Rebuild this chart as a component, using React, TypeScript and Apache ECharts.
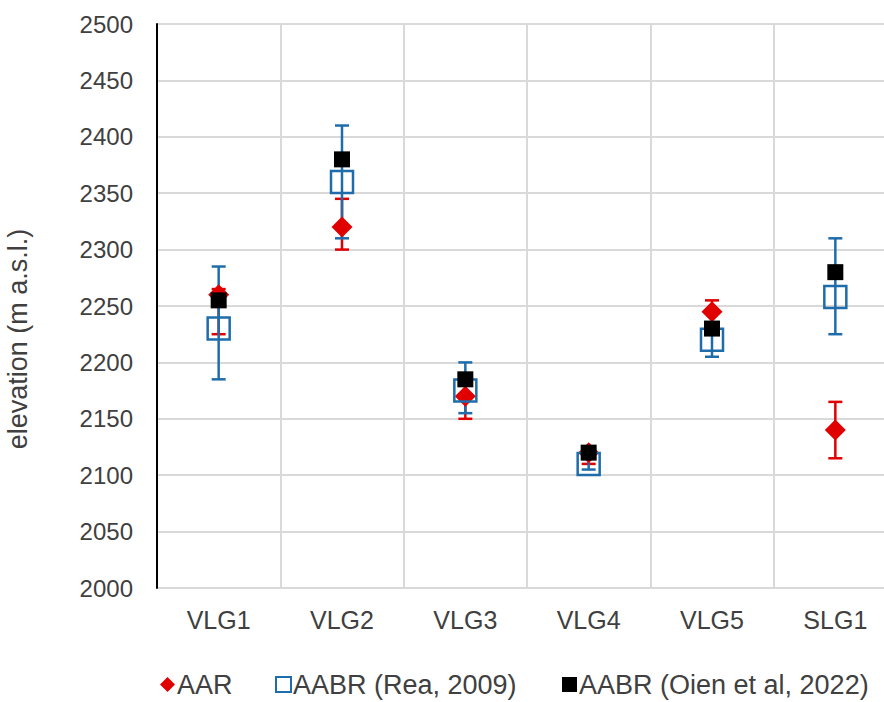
import React, { useEffect, useRef } from "react";
import * as echarts from "echarts";

const categories = ["VLG1", "VLG2", "VLG3", "VLG4", "VLG5", "SLG1"];
const aar = [2260, 2320, 2170, 2120, 2245, 2140];
const aarLow = [2225, 2300, 2150, 2110, 2235, 2115];
const aarHigh = [2265, 2345, 2190, 2125, 2255, 2165];
const rea = [2230, 2360, 2175, 2110, 2220, 2258];
const reaLow = [2185, 2310, 2155, 2105, 2205, 2225];
const reaHigh = [2285, 2410, 2200, 2115, 2232, 2310];
const oien = [2255, 2380, 2185, 2120, 2230, 2280];

const legendNames = ["AAR", "AABR (Rea, 2009)", "AABR (Oien et al, 2022)"];
const yAxisTitle = "elevation (m a.s.l.)";

const RED = "#e00000";
const BLUE = "#1f6cab";
const TEXT = "#404040";
const FONT = "Liberation Sans";

function errorSeries(low: number[], high: number[], color: string, z: number) {
  return {
    type: "custom",
    z,
    silent: true,
    data: categories.map((_, i) => [i, low[i], high[i]]),
    encode: { x: 0, y: [1, 2] },
    renderItem: (params: any, api: any) => {
      const x = api.value(0);
      const lo = api.coord([x, api.value(1)]);
      const hi = api.coord([x, api.value(2)]);
      const hw = 7;
      const style = { stroke: color, lineWidth: 2.5 };
      return {
        type: "group",
        children: [
          { type: "line", shape: { x1: lo[0], y1: lo[1], x2: hi[0], y2: hi[1] }, style },
          { type: "line", shape: { x1: lo[0] - hw, y1: lo[1], x2: lo[0] + hw, y2: lo[1] }, style },
          { type: "line", shape: { x1: hi[0] - hw, y1: hi[1], x2: hi[0] + hw, y2: hi[1] }, style },
        ],
      };
    },
  };
}

function legendAt(name: string, icon: string, left: number) {
  return {
    top: 671,
    left,
    padding: 0,
    itemWidth: 15,
    itemHeight: 15,
    textStyle: { fontSize: 27, color: TEXT, fontFamily: FONT, padding: [0, 0, 0, -3] },
    data: [{ name, icon }],
  };
}

export default function App() {
  const ref = useRef<HTMLDivElement>(null);
  useEffect(() => {
    if (!ref.current) return;
    const chart = echarts.init(ref.current, null, { renderer: "svg" });
    chart.setOption({
      animation: false,
      backgroundColor: "#ffffff",
      textStyle: { fontFamily: FONT },
      grid: {
        left: 157,
        top: 24,
        width: 740,
        bottom: 114,
        containLabel: false,
        outerBoundsMode: "none",
      },
      graphic: [
        {
          type: "text",
          x: 18,
          y: 339,
          rotation: Math.PI / 2,
          style: {
            text: yAxisTitle,
            fontSize: 27,
            fontFamily: FONT,
            fill: TEXT,
            align: "center",
            verticalAlign: "middle",
          },
        },
      ],
      legend: [
        legendAt(legendNames[0], "diamond", 160),
        legendAt(legendNames[1], "rect", 275),
        legendAt(legendNames[2], "rect", 562),
      ],
      xAxis: {
        type: "category",
        data: categories,
        boundaryGap: true,
        axisLine: { show: false },
        axisTick: { show: false },
        axisLabel: { fontSize: 25, color: TEXT, margin: 19, fontFamily: FONT },
        splitLine: { show: true, lineStyle: { color: "#d9d9d9", width: 2 } },
      },
      yAxis: {
        type: "value",
        min: 2000,
        max: 2500,
        interval: 50,
        axisLine: { show: true, lineStyle: { color: "#000000", width: 2 } },
        axisTick: { show: false },
        axisLabel: {
          fontSize: 24,
          color: TEXT,
          margin: 24,
          fontFamily: FONT,
          formatter: (v: number) => String(v),
        },
        splitLine: { show: true, lineStyle: { color: "#d9d9d9", width: 2 } },
      },
      series: [
        errorSeries(aarLow, aarHigh, RED, 2),
        errorSeries(reaLow, reaHigh, BLUE, 3),
        {
          name: legendNames[0],
          type: "scatter",
          z: 4,
          symbol: "diamond",
          symbolSize: [21, 21],
          itemStyle: { color: RED, opacity: 1 },
          data: aar,
        },
        {
          name: legendNames[1],
          type: "scatter",
          z: 5,
          symbol: "rect",
          symbolSize: 22,
          itemStyle: { color: "transparent", borderColor: BLUE, borderWidth: 2.5, opacity: 1 },
          data: rea,
        },
        {
          name: legendNames[2],
          type: "scatter",
          z: 6,
          symbol: "rect",
          symbolSize: 16,
          itemStyle: { color: "#000000", opacity: 1 },
          data: oien,
        },
      ],
    });
    return () => chart.dispose();
  }, []);
  return (
    <div
      ref={ref}
      style={{ position: "fixed", left: 0, top: 0, width: 884, height: 702 }}
    />
  );
}
